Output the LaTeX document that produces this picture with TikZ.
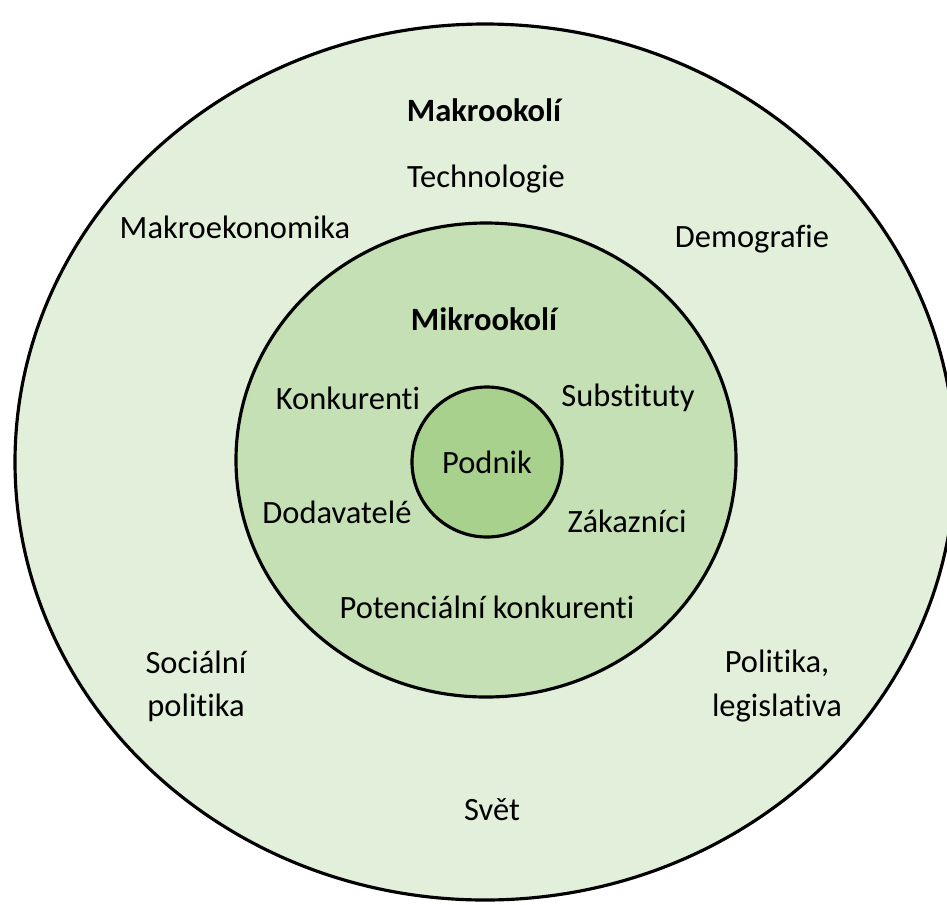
\documentclass[tikz,border=0pt]{standalone}
\usepackage{fontspec}
\setmainfont{Carlito}[Ligatures=NoCommon]
\usepackage{xcolor}
\usetikzlibrary{math}
\definecolor{makrogreen}{RGB}{226, 239, 218}
\definecolor{mikrogreen}{RGB}{197, 224, 180}
\definecolor{podnikgreen}{RGB}{169, 209, 142}

\begin{document}
\begin{tikzpicture}[x=0.02cm, y=-0.02cm,
  ring/.style={line width=1.8pt, draw=black},
  lbl/.style={font=\fontsize{18.5}{24.5}\selectfont, align=center, inner sep=0pt},
  head/.style={lbl, font=\fontsize{18.5}{24.5}\selectfont\bfseries}]
\tikzmath{
\cx=485;
\cy=462;
}
\useasboundingbox (0,0) rectangle (947,904);
\clip (0,0) rectangle (947,904);

%%%%%%%%%% rings
\filldraw[ring, fill=makrogreen] (\cx,\cy) ellipse [x radius=470, y radius=438];
\filldraw[ring, fill=mikrogreen] (\cx+1,\cy-2) ellipse [x radius=250, y radius=237];
\filldraw[ring, fill=podnikgreen] (\cx+2,\cy) ellipse [x radius=75, y radius=75];

%%%%%%%%%% macro environment
\node[head] (makro) at (484,110) {Makrookolí};
\node[lbl] (tech) at (486,179) {Technologie};
\node[lbl] (ekon) at (235,227) {Makroekonomika};
\node[lbl] (demo) at (752,239) {Demografie};
\node[lbl] (soc) at (196,686) {Sociální\\politika};
\node[lbl] (pol) at (777,686) {Politika,\\legislativa};
\node[lbl] (svet) at (492,810) {Svět};

%%%%%%%%%% micro environment
\node[head] (mikro) at (484,319) {Mikrookolí};
\node[lbl] (konk) at (348,398) {Konkurenti};
\node[lbl] (subs) at (628,398) {Substituty};
\node[lbl] (doda) at (337,512) {Dodavatelé};
\node[lbl] (zak) at (627,521) {Zákazníci};
\node[lbl] (potk) at (487,607) {Potenciální konkurenti};

%%%%%%%%%% firm
\node[lbl] (podnik) at (487,462) {Podnik};
\end{tikzpicture}
\end{document}
